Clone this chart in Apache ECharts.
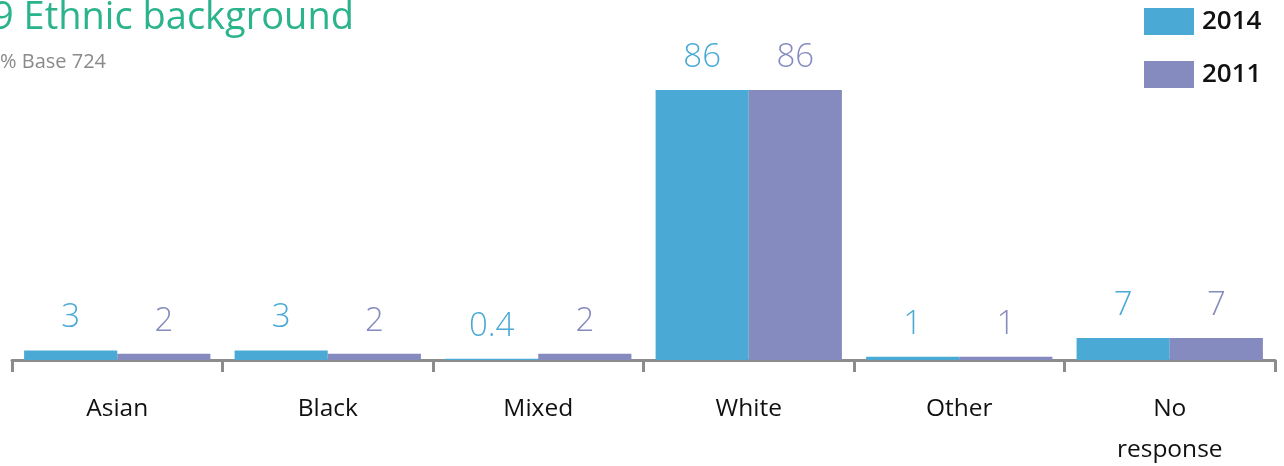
<!DOCTYPE html>
<html><head><meta charset="utf-8">
<script src="https://cdn.jsdelivr.net/npm/echarts@6/dist/echarts.min.js"></script>
<style>html,body{margin:0;padding:0;background:#fff}#c{width:1284px;height:466px}</style>
</head><body><div id="c"></div>
<script>
const categories = ['Asian', 'Black', 'Mixed', 'White', 'Other', 'No\nresponse'];
const series2014 = [3, 3, 0.4, 86, 1, 7];
const series2011 = [2, 2, 2, 86, 1, 7];
const seriesNames = ['2014', '2011'];
const titleText = '9 Ethnic background';
const subtitleText = '% Base 724';

const C14 = '#4aaad5', C11 = '#858bbf';
const chart = echarts.init(document.getElementById('c'));
const lbl = (col) => ({
  show: true, position: 'top', distance: 16, color: col,
  fontFamily: 'Open Sans', fontWeight: 300, fontSize: 33,
  formatter: p => String(p.value)
});
chart.setOption({
  animation: false,
  title: [
    { text: titleText, left: -8, top: -1, padding: 0, textStyle: { color: '#2bb38c', fontFamily: 'Open Sans', fontWeight: 400, fontSize: 38 } },
    { text: subtitleText, left: 0, top: 52, padding: 0, textStyle: { color: '#8a8a8a', fontFamily: 'Open Sans', fontWeight: 400, fontSize: 20 } }
  ],
  legend: {
    orient: 'vertical', left: 1144, top: 8, padding: 0, itemWidth: 50, itemHeight: 27, itemGap: 26,
    icon: 'rect',
    textStyle: { color: '#111', fontFamily: 'Open Sans', fontWeight: 600, fontSize: 26, padding: [0, 0, 0, 3] },
    data: seriesNames
  },
  grid: { left: 12, right: 9, top: 46, bottom: 106, containLabel: false, outerBoundsMode: 'none' },
  xAxis: {
    type: 'category', data: categories,
    axisLine: { lineStyle: { color: '#8c8c8c', width: 3 } },
    axisTick: { show: true, length: 12, lineStyle: { color: '#8c8c8c', width: 3 } },
    axisLabel: { color: '#111', fontFamily: 'Open Sans', fontSize: 24.5, lineHeight: 41, margin: 29, interval: 0 }
  },
  yAxis: { type: 'value', min: 0, max: 100, show: false, splitLine: { show: false } },
  series: [
    { name: seriesNames[0], type: 'bar', data: series2014, barGap: '0%', barCategoryGap: '11.5%', itemStyle: { color: C14 }, label: lbl(C14) },
    { name: seriesNames[1], type: 'bar', data: series2011, barGap: '0%', barCategoryGap: '11.5%', itemStyle: { color: C11 }, label: lbl(C11) }
  ]
});
</script></body></html>
